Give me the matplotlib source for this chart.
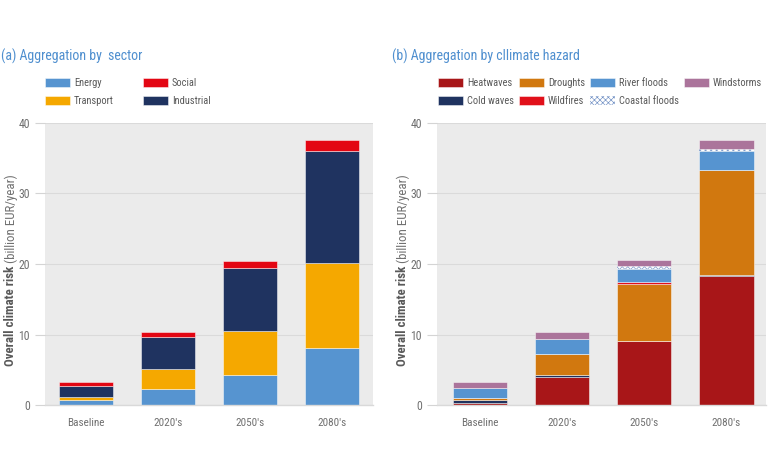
import matplotlib
matplotlib.use("Agg")
import matplotlib.pyplot as plt
from matplotlib import font_manager
import numpy as np
from matplotlib.patches import Patch

# the original uses a narrow Arial-like face; take one if it is installed
installed = {f.name for f in font_manager.fontManager.ttflist}
narrow = None
for cand in ["Liberation Sans Narrow", "Arial Narrow", "Roboto Condensed",
             "Open Sans Condensed", "Noto Sans Condensed"]:
    if cand in installed:
        narrow = cand
        break
if narrow:
    plt.rcParams['font.family'] = [narrow, 'Liberation Sans', 'DejaVu Sans']
    scale = 1.0
else:
    plt.rcParams['font.family'] = ['Liberation Sans', 'DejaVu Sans']
    scale = 0.9
fs_tick = 8 * scale
fs_leg = 7.5 * scale
fs_title = 10 * scale
fs_ylab = 9.3 * scale
plt.rcParams['hatch.linewidth'] = 0.45

periods = ["Baseline", "2020's", "2050's", "2080's"]

# (a) by sector, billion EUR/year
sectors = ["Energy", "Transport", "Industrial", "Social"]
energy = [0.65, 2.2, 4.2, 8.15]
transport = [0.55, 2.95, 6.35, 12.0]
industrial = [1.5, 4.45, 8.95, 15.85]
social = [0.6, 0.7, 0.95, 1.6]

# (b) by climate hazard, billion EUR/year
hazards = ["Heatwaves", "Cold waves", "Droughts", "Wildfires",
           "River floods", "Coastal floods", "Windstorms"]
heatwaves = [0.35, 3.92, 9.05, 18.35]
cold_waves = [0.3, 0.28, 0.05, 0.02]
droughts = [0.3, 3.0, 8.05, 14.95]
wildfires = [0.03, 0.05, 0.35, 0.05]
river_floods = [1.45, 2.05, 1.85, 2.6]
coastal_floods = [0.03, 0.05, 0.3, 0.4]
windstorms = [0.87, 0.95, 0.87, 1.2]

sector_colors = {"Energy": "#5694d0", "Transport": "#f5a800",
                 "Industrial": "#1f3360", "Social": "#e30613"}
hazard_colors = {"Heatwaves": "#a81618", "Cold waves": "#1f3360",
                 "Droughts": "#d1780f", "Wildfires": "#e1101a",
                 "River floods": "#5694d0", "Coastal floods": "#ffffff",
                 "Windstorms": "#ab749b"}
hatch_color = "#6f8fc4"
txt_color = "#707070"

W, H = 768, 471
fig = plt.figure(figsize=(W / 100, H / 100), dpi=100)
ax1 = fig.add_axes([45 / W, (H - 405) / H, 328 / W, 282 / H])
ax2 = fig.add_axes([437 / W, (H - 405) / H, 329 / W, 282 / H])

x = np.arange(len(periods))
width = 0.66
edge = (1, 1, 1, 0.55)


def style_axis(ax, xlim):
    ax.set_facecolor("#ebebeb")
    ax.set_ylim(0, 40)
    ax.set_xlim(*xlim)
    ax.set_yticks([0, 10, 20, 30, 40])
    ax.yaxis.grid(True, color="#dadada", linewidth=0.8)
    ax.set_axisbelow(True)
    for s in ["top", "right", "left"]:
        ax.spines[s].set_visible(False)
    ax.spines["bottom"].set_color("#d9d9d9")
    ax.spines["bottom"].set_linewidth(1.0)
    ax.tick_params(axis="y", length=7, width=0.8, color="#d4d4d4",
                   labelcolor=txt_color, labelsize=fs_tick + 0.5, pad=4)
    ax.tick_params(axis="x", length=0, labelcolor=txt_color, labelsize=fs_tick, pad=9)
    ax.set_xticks(x)
    ax.set_xticklabels(periods)


def hatch_patch():
    return Patch(facecolor="white", edgecolor=hatch_color, hatch="xxxxxx", linewidth=0)


# panel (a)
bottom = np.zeros(len(periods))
for name, vals in zip(sectors, [energy, transport, industrial, social]):
    ax1.bar(x, vals, width, bottom=bottom, color=sector_colors[name],
            edgecolor=edge, linewidth=0.6)
    bottom += np.array(vals)
style_axis(ax1, (-0.5, 3.5))

# panel (b)
bottom = np.zeros(len(periods))
for name, vals in zip(hazards, [heatwaves, cold_waves, droughts, wildfires,
                                river_floods, coastal_floods, windstorms]):
    if name == "Coastal floods":
        ax2.bar(x, vals, width, bottom=bottom, color="white",
                edgecolor=hatch_color, hatch="xxxxxx", linewidth=0)
    else:
        ax2.bar(x, vals, width, bottom=bottom, color=hazard_colors[name],
                edgecolor=edge, linewidth=0.6)
    bottom += np.array(vals)
style_axis(ax2, (-0.52, 3.48))

# titles
fig.text(1 / W, 1 - 56 / H, "(a) Aggregation by  sector", color="#4f8fcf",
         fontsize=fs_title, va="center", ha="left")
fig.text(392 / W, 1 - 56 / H, "(b) Aggregation by cllimate hazard", color="#4f8fcf",
         fontsize=fs_title, va="center", ha="left")

# y labels: bold part then regular part
for xl in [11, 403]:
    fig.text(xl / W, 1 - 263 / H, "Overall climate risk ", rotation=90,
             rotation_mode="anchor", ha="right", va="center",
             fontsize=fs_ylab, fontweight="bold", color="#595959")
    fig.text(xl / W, 1 - 263 / H, "(billion EUR/year)", rotation=90,
             rotation_mode="anchor", ha="left", va="center",
             fontsize=fs_ylab, color=txt_color)

# legends
px = fs_leg * 100 / 72
leg_kw = dict(frameon=False, fontsize=fs_leg, handlelength=25 / px, handleheight=10 / px,
              handletextpad=4 / px, labelspacing=8 / px, labelcolor="#595959",
              borderaxespad=0, borderpad=0, loc="upper left")


def make_handles(names, colors):
    handles = []
    for n in names:
        if n == "Coastal floods":
            handles.append(hatch_patch())
        else:
            handles.append(Patch(facecolor=colors[n], edgecolor=edge, linewidth=0.6))
    return handles


sec_order = ["Energy", "Transport", "Social", "Industrial"]
fig.legend(make_handles(sec_order, sector_colors), sec_order, ncol=2,
           columnspacing=29 / px, bbox_to_anchor=(45 / W, 1 - 78 / H), **leg_kw)
fig.legend(make_handles(hazards, hazard_colors), hazards, ncol=4,
           columnspacing=5 / px, bbox_to_anchor=(438 / W, 1 - 78 / H), **leg_kw)

fig.savefig("out.png", dpi=100)
